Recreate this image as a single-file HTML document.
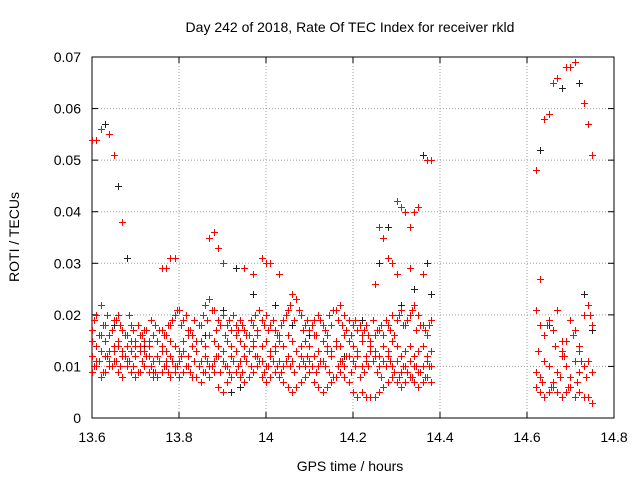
<!DOCTYPE html>
<html><head><meta charset="utf-8"><style>
body{margin:0;background:#fff;}
svg text{font-family:"Liberation Sans",sans-serif;font-size:14px;fill:#000;}
</style></head><body>
<svg id="chart" width="640" height="480" xmlns="http://www.w3.org/2000/svg">
<rect width="640" height="480" fill="#fff"/>
<text x="350" y="32" text-anchor="middle">Day 242 of 2018, Rate Of TEC Index for receiver rkld</text>
<text x="350" y="471" text-anchor="middle">GPS time / hours</text>
<text transform="translate(19,237) rotate(-90)" text-anchor="middle">ROTI / TECUs</text>
<g id="grid"></g><g id="axes"></g><g id="marks"></g>
</svg>
<script>
const xTicks=[13.6,13.8,14,14.2,14.4,14.6,14.8];
const xTickLabels=["13.6","13.8","14","14.2","14.4","14.6","14.8"];
const yTicks=[0,0.01,0.02,0.03,0.04,0.05,0.06,0.07];
const yTickLabels=["0","0.01","0.02","0.03","0.04","0.05","0.06","0.07"];
const times=[13.60,13.61,13.62,13.63,13.64,13.65,13.66,13.67,13.68,13.69,13.70,13.71,13.72,13.73,13.74,13.75,13.76,13.77,13.78,13.79,13.80,13.81,13.82,13.83,13.84,13.85,13.86,13.87,13.88,13.89,13.90,13.91,13.92,13.93,13.94,13.95,13.96,13.97,13.98,13.99,14.00,14.01,14.02,14.03,14.04,14.05,14.06,14.07,14.08,14.09,14.10,14.11,14.12,14.13,14.14,14.15,14.16,14.17,14.18,14.19,14.20,14.21,14.22,14.23,14.24,14.25,14.26,14.27,14.28,14.29,14.30,14.31,14.32,14.33,14.34,14.35,14.36,14.37,14.38];
const redRowA=[.009,.010,.008,.009,.010,.011,.009,.008,.010,.009,.008,.009,.010,.009,.008,.008,.009,.010,.008,.009,.008,.009,.010,.008,.008,.007,.009,.008,.009,.006,.005,.007,.008,.009,.008,.007,.008,.009,.010,.008,.007,.008,.009,.008,.007,.006,.005,.006,.007,.008,.009,.007,.006,.005,.006,.007,.008,.009,.008,.007,.005,.004,.005,.004,.004,.004,.005,.006,.007,.008,.007,.006,.007,.008,.007,.006,.007,.008,.007];
const redRowB=[.012,.011,.013,.012,.011,.013,.014,.012,.011,.013,.012,.014,.013,.012,.011,.012,.013,.011,.012,.010,.011,.013,.012,.014,.013,.011,.012,.010,.011,.012,.011,.010,.012,.013,.011,.012,.013,.014,.012,.011,.010,.012,.013,.011,.010,.012,.011,.013,.012,.010,.011,.012,.010,.011,.013,.012,.014,.011,.010,.012,.011,.012,.010,.011,.013,.012,.010,.011,.012,.010,.011,.009,.010,.011,.010,.009,.010,.011,.010];
const redRowC=[.017,.020,.022,.018,.016,.019,.020,.017,.016,.018,.015,.016,.017,.015,.016,.015,.017,.016,.018,.020,.021,.019,.017,.016,.015,.018,.022,.023,.021,.019,.020,.018,.017,.018,.019,.017,.016,.018,.017,.019,.020,.018,.017,.016,.019,.021,.024,.023,.020,.018,.017,.019,.020,.018,.016,.018,.021,.022,.020,.019,.018,.017,.016,.018,.015,.016,.017,.016,.018,.020,.019,.021,.018,.020,.022,.020,.018,.016,.019];
const redRowD=[.015,.014,.016,.015,.013,.014,.015,.013,.014,.015,.014,.013,.015,.014,.016,.015,.014,.013,.015,.014,.013,.015,.016,.014,.013,.015,.014,.016,.015,.014,.013,.015,.014,.016,.015,.014,.013,.015,.016,.014,.015,.013,.014,.015,.014,.016,.015,.013,.014,.015,.014,.016,.013,.015,.014,.013,.015,.014,.016,.015,.014,.013,.015,.012,.014,.013,.012,.014,.013,.015,.014,.012,.013,.014,.012,.013,.014,.012,.013];
const times2=[13.605,13.615,13.625,13.635,13.645,13.655,13.665,13.675,13.685,13.695,13.705,13.715,13.725,13.735,13.745,13.755,13.765,13.775,13.785,13.795,13.805,13.815,13.825,13.835,13.845,13.855,13.865,13.875,13.885,13.895,13.905,13.915,13.925,13.935,13.945,13.955,13.965,13.975,13.985,13.995,14.005,14.015,14.025,14.035,14.045,14.055,14.065,14.075,14.085,14.095,14.105,14.115,14.125,14.135,14.145,14.155,14.165,14.175,14.185,14.195,14.205,14.215,14.225,14.235,14.245,14.255,14.265,14.275,14.285,14.295,14.305,14.315,14.325,14.335,14.345,14.355,14.365,14.375];
const redRowE=[.010,.011,.009,.012,.010,.011,.010,.012,.011,.010,.009,.011,.012,.010,.009,.011,.010,.009,.011,.010,.012,.010,.009,.011,.010,.009,.011,.010,.012,.009,.010,.009,.011,.010,.009,.011,.010,.012,.011,.009,.010,.011,.010,.009,.011,.010,.009,.010,.011,.012,.010,.009,.011,.010,.009,.008,.010,.011,.012,.009,.010,.008,.009,.010,.011,.009,.008,.010,.011,.009,.008,.010,.009,.008,.010,.009,.008,.010];
const redRowF=[.019,.016,.018,.020,.017,.019,.018,.016,.020,.017,.018,.016,.017,.019,.018,.017,.016,.018,.019,.021,.018,.020,.017,.019,.018,.020,.019,.021,.017,.018,.016,.019,.020,.017,.018,.016,.019,.020,.021,.018,.017,.019,.016,.018,.020,.022,.019,.021,.017,.019,.018,.016,.019,.017,.020,.021,.019,.018,.017,.016,.019,.018,.017,.016,.019,.017,.018,.019,.017,.016,.020,.018,.019,.021,.017,.018,.017,.018];
const redOutX=[13.60,13.61,13.62,13.64,13.65,13.67,13.76,13.77,13.78,13.79,13.87,13.88,13.89,13.90,13.95,13.97,13.99,14.00,14.01,14.03,14.25,14.26,14.27,14.28,14.29,14.30,14.31,14.32,14.33,14.34,14.35,14.37,14.38,14.30,14.33,14.36];
const redOutY=[.054,.054,.056,.055,.051,.038,.029,.029,.031,.031,.035,.036,.033,.030,.029,.028,.031,.030,.030,.028,.026,.037,.035,.031,.030,.042,.041,.040,.037,.040,.041,.050,.050,.028,.029,.028];
const rightTimes=[14.62,14.63,14.64,14.65,14.66,14.67,14.68,14.69,14.70,14.71,14.72,14.73,14.74,14.75];
const rightLow=[.006,.005,.004,.005,.006,.005,.004,.005,.006,.004,.005,.004,.004,.003];
const rightMid=[.009,.008,.011,.010,.007,.009,.012,.010,.008,.011,.009,.010,.011,.009];
const rightHigh=[.021,.018,.016,.019,.017,.021,.013,.015,.019,.017,.014,.020,.022,.018];
const rightPeak=[.048,.027,.058,.059,.065,.066,.015,.068,.068,.069,.013,.061,.057,.051];
const rightTimes2=[14.625,14.635,14.645,14.655,14.665,14.675,14.685,14.695,14.705,14.715,14.725,14.735,14.745];
const rightExtra=[.013,.007,.018,.006,.014,.008,.012,.006,.016,.007,.011,.008,.020];
const blackX=[13.61,13.63,13.66,13.68,13.70,13.74,13.82,13.86,13.90,13.93,13.94,13.97,14.02,14.06,14.10,14.14,14.18,14.22,14.26,14.28,14.31,14.34,14.36,14.37,14.38,14.63,14.65,14.68,14.70,14.72,14.73,14.75,13.65,13.72,13.92];
const blackY=[.010,.057,.045,.031,.012,.009,.017,.016,.021,.029,.006,.024,.022,.018,.016,.014,.012,.019,.030,.037,.022,.025,.051,.030,.024,.052,.018,.064,.008,.065,.024,.017,.018,.014,.005];

const L=92,R=614,T=57,B=418;
const sx=v=>L+(v-13.6)/(14.8-13.6)*(R-L);
const sy=v=>B-v/0.07*(B-T);
const NS="http://www.w3.org/2000/svg";
function mk(tag,parent,attrs){const e=document.createElementNS(NS,tag);for(const k in attrs)e.setAttribute(k,attrs[k]);parent.appendChild(e);return e;}
const grid=document.getElementById('grid'),axes=document.getElementById('axes'),marks=document.getElementById('marks');
xTicks.forEach((t,i)=>{const x=sx(t);
 if(i>0&&i<xTicks.length-1){const g=mk('line',grid,{x1:x,x2:x,y1:T,y2:B,stroke:'#a0a0a0','stroke-dasharray':'1,2'});}
 mk('line',axes,{x1:x,x2:x,y1:B,y2:B-6,stroke:'#000'});mk('line',axes,{x1:x,x2:x,y1:T,y2:T+6,stroke:'#000'});
 const tx=mk('text',axes,{x:x,y:B+24,'text-anchor':'middle'});tx.textContent=xTickLabels[i];
 });
yTicks.forEach((t,i)=>{const y=sy(t);
 if(i>0&&i<yTicks.length-1){const g=mk('line',grid,{x1:L,x2:R,y1:y,y2:y,stroke:'#a0a0a0','stroke-dasharray':'1,2'});}
 mk('line',axes,{x1:L,x2:L+6,y1:y,y2:y,stroke:'#000'});mk('line',axes,{x1:R,x2:R-6,y1:y,y2:y,stroke:'#000'});
 const tx=mk('text',axes,{x:L-11,y:y+5,'text-anchor':'end'});tx.textContent=yTickLabels[i];
 });
const frame=mk('rect',axes,{x:L,y:T,width:R-L,height:B-T,fill:'none',stroke:'#000'});

function plus(x,y,color){const cx=Math.round(sx(x))+0.5,cy=Math.round(sy(y))+0.5;
 const p=mk('path',marks,{d:`M${cx-3.5},${cy}H${cx+3.5}M${cx},${cy-3.5}V${cy+3.5}`,stroke:color,'stroke-width':1,fill:'none'});
 }
blackX.forEach((x,i)=>plus(x,blackY[i],'#202020'));
[redRowA,redRowB,redRowC,redRowD].forEach(row=>row.forEach((v,i)=>{if(i<times.length)plus(times[i],v,'#ff0000');}));
[redRowE,redRowF].forEach(row=>row.forEach((v,i)=>{if(i<times2.length)plus(times2[i],v,'#ff0000');}));
redOutX.forEach((x,i)=>plus(x,redOutY[i],'#ff0000'));
[rightLow,rightMid,rightHigh,rightPeak].forEach(row=>row.forEach((v,i)=>plus(rightTimes[i],v,'#ff0000')));
rightExtra.forEach((v,i)=>plus(rightTimes2[i],v,'#ff0000'));
</script>
</body></html>
